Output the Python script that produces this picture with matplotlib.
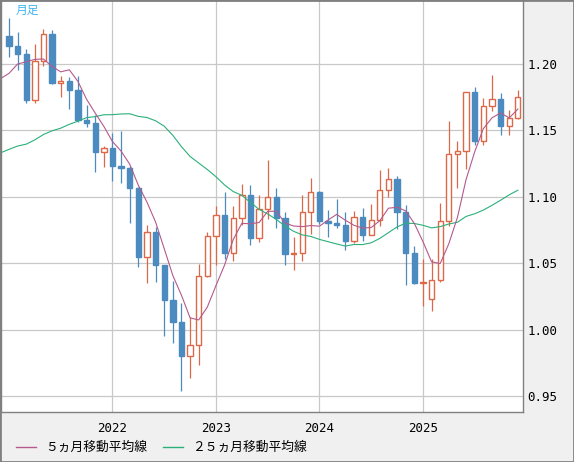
import numpy as np
import pandas as pd
import matplotlib.pyplot as plt
from matplotlib.lines import Line2D
from matplotlib.patches import Rectangle

# monthly candles, Jan 2021 .. Dec 2025
opens = [1.2214, 1.2136, 1.2074, 1.1730, 1.2020, 1.2227, 1.1858, 1.1870, 1.1807, 1.1580, 1.1558, 1.1338,
         1.1370, 1.1235, 1.1219, 1.1067, 1.0545, 1.0735, 1.0484, 1.0220, 1.0054, 0.9802, 0.9882, 1.0405,
         1.0705, 1.0863, 1.0576, 1.0840, 1.1016, 1.0689, 1.0910, 1.0998, 1.0843, 1.0573, 1.0577, 1.0886,
         1.1039, 1.0818, 1.0805, 1.0790, 1.0666, 1.0848, 1.0713, 1.0826, 1.1048, 1.1135, 1.0884, 1.0577,
         1.0354, 1.0230, 1.0376, 1.0816, 1.1326, 1.1347, 1.1787, 1.1417, 1.1686, 1.1734, 1.1535, 1.1597]
highs = [1.2350, 1.2243, 1.2113, 1.2150, 1.2266, 1.2254, 1.1909, 1.1900, 1.1909, 1.1692, 1.1616, 1.1386,
         1.1483, 1.1495, 1.1233, 1.1076, 1.0787, 1.0774, 1.0486, 1.0369, 1.0198, 1.0094, 1.0497, 1.0736,
         1.0930, 1.1033, 1.0930, 1.1095, 1.1092, 1.1012, 1.1276, 1.1065, 1.0882, 1.0695, 1.1017, 1.1140,
         1.1046, 1.0898, 1.0981, 1.0885, 1.0895, 1.0916, 1.0948, 1.1202, 1.1214, 1.1153, 1.0937, 1.0630,
         1.0533, 1.0529, 1.0955, 1.1573, 1.1419, 1.1789, 1.1830, 1.1742, 1.1919, 1.1778, 1.1655, 1.1805]
lows = [1.2054, 1.1952, 1.1704, 1.1704, 1.1986, 1.1847, 1.1752, 1.1664, 1.1563, 1.1524, 1.1186, 1.1222,
        1.1121, 1.1106, 1.0806, 1.0471, 1.0350, 1.0359, 0.9952, 0.9901, 0.9536, 0.9632, 0.9730, 1.0393,
        1.0483, 1.0533, 1.0516, 1.0788, 1.0635, 1.0662, 1.0835, 1.0766, 1.0488, 1.0448, 1.0516, 1.0723,
        1.0795, 1.0695, 1.0762, 1.0601, 1.0650, 1.0668, 1.0709, 1.0778, 1.1002, 1.0761, 1.0333, 1.0343,
        1.0178, 1.0141, 1.0360, 1.0778, 1.1065, 1.1210, 1.1392, 1.1391, 1.1646, 1.1469, 1.1469, 1.1586]
closes = [1.2136, 1.2074, 1.1730, 1.2020, 1.2227, 1.1858, 1.1870, 1.1807, 1.1580, 1.1558, 1.1338, 1.1370,
          1.1235, 1.1219, 1.1067, 1.0545, 1.0735, 1.0484, 1.0220, 1.0054, 0.9802, 0.9882, 1.0405, 1.0705,
          1.0863, 1.0576, 1.0840, 1.1016, 1.0689, 1.0910, 1.0998, 1.0843, 1.0573, 1.0577, 1.0886, 1.1039,
          1.0818, 1.0805, 1.0790, 1.0666, 1.0848, 1.0713, 1.0826, 1.1048, 1.1135, 1.0884, 1.0577, 1.0354,
          1.0362, 1.0376, 1.0816, 1.1326, 1.1347, 1.1787, 1.1417, 1.1686, 1.1734, 1.1535, 1.1597, 1.1750]
# closes Dec 2018 .. Dec 2020, only used so the averages reach the left edge
prev_closes = [1.1467,
               1.1448, 1.1372, 1.1217, 1.1214, 1.1166, 1.1370, 1.1076, 1.0988, 1.0898, 1.1151, 1.1017, 1.1213,
               1.1093, 1.1026, 1.1031, 1.0955, 1.1100, 1.1234, 1.1776, 1.1936, 1.1721, 1.1647, 1.1927, 1.2215]

year_labels = ['2022', '2023', '2024', '2025']
year_pos = [12, 24, 36, 48]
yticks = [0.95, 1.00, 1.05, 1.10, 1.15, 1.20]

up_col = '#dc6848'
down_col = '#4b8bbf'
ma5_col = '#b45a8c'
ma25_col = '#2bb07a'

o = np.array(opens)
h = np.array(highs)
l = np.array(lows)
c = np.array(closes)
x = np.arange(len(c))
up = c >= o

allc = pd.Series(prev_closes + closes)
start = len(prev_closes) - 1
ma5 = allc.rolling(5).mean().values[start:]
ma25 = allc.rolling(25).mean().values[start:]
ma_x = np.arange(-1, len(c))

plt.rcParams['font.family'] = ['DejaVu Sans Mono']

fig = plt.figure(figsize=(5.74, 4.62), dpi=100, facecolor='#f0f0f0')
ax = fig.add_axes([0.5/574, 50/462, 522.5/574, 412/462])
ax.set_facecolor('white')

ax.vlines(x[up], l[up], h[up], colors=up_col, linewidth=0.9, zorder=2)
ax.vlines(x[~up], l[~up], h[~up], colors=down_col, linewidth=0.9, zorder=2)
ax.bar(x[up], np.maximum(c[up]-o[up], 0.0002), bottom=o[up], width=0.62,
       facecolor='white', edgecolor=up_col, linewidth=1.0, zorder=3)
ax.bar(x[~up], o[~up]-c[~up], bottom=c[~up], width=0.62,
       facecolor=down_col, edgecolor=down_col, linewidth=1.0, zorder=3)

ax.plot(ma_x, ma25, color=ma25_col, linewidth=0.8, zorder=4)
ax.plot(ma_x, ma5, color=ma5_col, linewidth=0.8, zorder=4)

ax.set_xlim(-0.98, 59.6)
ax.set_ylim(1.20 - 348/1328, 1.20 + 64/1328)
ax.set_xticks(year_pos)
ax.set_xticklabels(year_labels)
ax.set_yticks(yticks)
ax.set_yticklabels(['%.2f' % v for v in yticks])
ax.yaxis.tick_right()
ax.tick_params(axis='y', length=0, pad=3, labelsize=9)
ax.tick_params(axis='x', length=0, pad=7, labelsize=9)
ax.grid(True, color='#c8c8c8', linewidth=0.9)
ax.set_axisbelow(True)
for s in ax.spines.values():
    s.set_color('#808080')
    s.set_linewidth(1.0)

jp = ['Noto Sans CJK JP', 'DejaVu Sans']
fig.text(27/574, 1-10/462, '月足', color='#3cb4f0', fontsize=8.5, family=jp, ha='center', va='center')

ly = 1 - 447/462
fig.add_artist(Line2D([16/574, 36/574], [ly, ly], transform=fig.transFigure, color=ma5_col, linewidth=1))
fig.text(45/574, ly, '５ヵ月移動平均線', fontsize=9.2, family=jp, va='center')
fig.add_artist(Line2D([163/574, 183/574], [ly, ly], transform=fig.transFigure, color=ma25_col, linewidth=1))
fig.text(192/574, ly, '２５ヵ月移動平均線', fontsize=9.2, family=jp, va='center')

fig.add_artist(Rectangle((0, 0), 1, 1, transform=fig.transFigure, fill=False,
                         edgecolor='#808080', linewidth=2))

fig.savefig('out.png', dpi=100, facecolor=fig.get_facecolor())
